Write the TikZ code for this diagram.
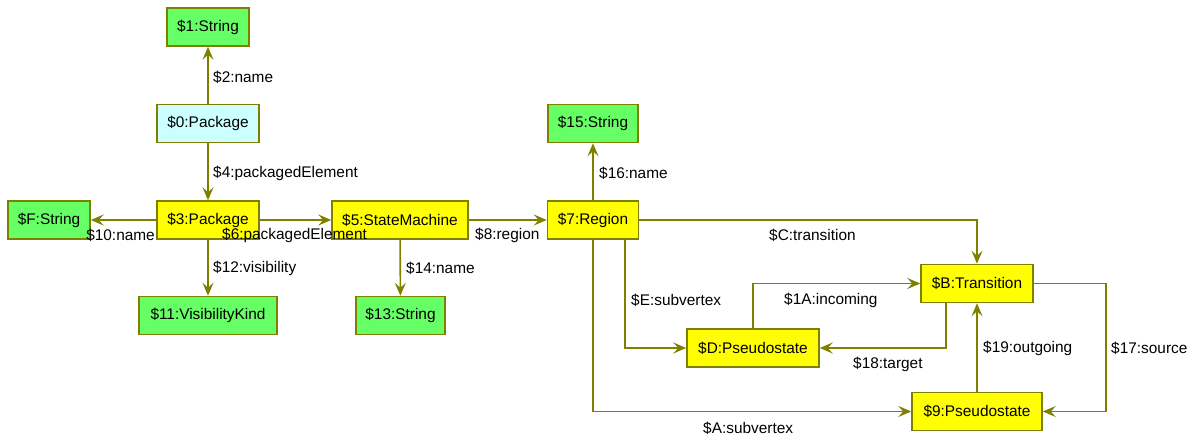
\documentclass[tikz,border=0pt]{standalone}
\usepackage{fontspec}
\setmainfont{Liberation Sans}
\usetikzlibrary{arrows.meta,calc}
\definecolor{olive}{RGB}{128,128,0}
\definecolor{objgreen}{RGB}{102,255,102}
\definecolor{objcyan}{RGB}{204,255,255}
\definecolor{objyellow}{RGB}{255,255,0}
\begin{document}
\begin{tikzpicture}[x=1pt,y=-1pt,
  font=\fontsize{15.4}{18}\selectfont,
  obj/.style={draw=olive,line width=1.5pt,inner sep=0pt,minimum height=38pt,text=black},
  strobj/.style={obj,fill=objgreen},
  pkgobj/.style={obj,fill=objcyan},
  elemobj/.style={obj,fill=objyellow},
  link/.style={draw=olive,line width=1.6pt,-{Stealth[length=13pt,width=11pt,inset=5pt]}},
  lbl/.style={anchor=west,inner sep=0pt,text=black}]
\useasboundingbox (0,0) rectangle (1190,436);

% objects
\node[strobj,minimum width=82pt]  (n1)  at (208,27)    {\$1:String};
\node[pkgobj,minimum width=102pt] (n0)  at (208,123.5) {\$0:Package};
\node[strobj,minimum width=82pt]  (nF)  at (49,220)    {\$F:String};
\node[elemobj,minimum width=102pt](n3)  at (208,220)   {\$3:Package};
\node[elemobj,minimum width=136pt](n5)  at (400,220)   {\$5:StateMachine};
\node[strobj,minimum width=138pt] (n11) at (208,315.5) {\$11:VisibilityKind};
\node[strobj,minimum width=89pt]  (n13) at (400.5,315.5) {\$13:String};
\node[strobj,minimum width=90pt]  (n15) at (593,123.5) {\$15:String};
\node[elemobj,minimum width=91pt] (n7)  at (593,220)   {\$7:Region};
\node[elemobj,minimum width=112pt](nB)  at (977,283.5) {\$B:Transition};
\node[elemobj,minimum width=132pt](nD)  at (753,348)   {\$D:Pseudostate};
\node[elemobj,minimum width=130pt](n9)  at (977,411.5) {\$9:Pseudostate};

\coordinate (srcCorner) at (1106,283.5);

% links
\draw[link] (n0) -- (n1);
\draw[link] (n0) -- (n3);
\draw[link] (n3) -- (nF);
\draw[link] (n3) -- (n5);
\draw[link] (n3) -- (n11);
\draw[link] (n5) -- (n13);
\draw[link] (n5) -- (n7);
\draw[link] (n7) -- (n15);
\draw[link] (n7.east) -| (nB.north);
\draw[link] ($(n7.south)+(32,0)$) |- (nD.west);
\draw[link] (n7.south) |- (n9.west);
\draw[link] (nD.north) |- (nB.west);
\draw[link] ($(nB.south)+(-31,0)$) |- (nD.east);
\draw[link] (n9) -- (nB);
\draw[link] (nB.east) -- (srcCorner) |- (n9.east);

% link labels
\node[lbl] (l2)  at (213,77)  {\$2:name};
\node[lbl] (l4)  at (213,173) {\$4:packagedElement};
\node[lbl,anchor=east] (l10) at (155,235) {\$10:name};
\node[lbl] (l6)  at (222,235) {\$6:packagedElement};
\node[lbl] (l12) at (213,268) {\$12:visibility};
\node[lbl] (l14) at (406,268) {\$14:name};
\node[lbl] (l8)  at (475,235) {\$8:region};
\node[lbl] (l16) at (599,173) {\$16:name};
\node[lbl] (lC)  at (769,235) {\$C:transition};
\node[lbl] (lE)  at (631,300) {\$E:subvertex};
\node[lbl] (lA)  at (703,428) {\$A:subvertex};
\node[lbl] (l1A) at (784,300) {\$1A:incoming};
\node[lbl] (l18) at (853,364) {\$18:target};
\node[lbl] (l19) at (983,348) {\$19:outgoing};
\node[lbl] (l17) at (1111,348) {\$17:source};
\end{tikzpicture}
\end{document}
